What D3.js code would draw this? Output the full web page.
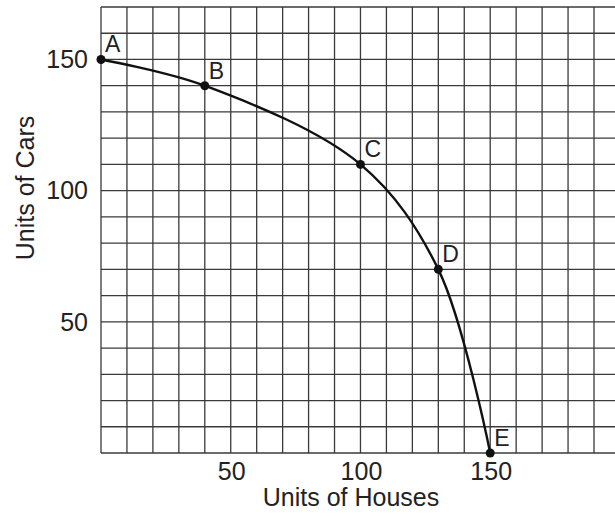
<html>
<script src="https://d3js.org/d3.v7.min.js" charset="utf-8"></script>
<style>
body { margin: 0; background: white; }
text { font-family: "Liberation Sans", Arial, sans-serif; fill: #222; }
</style>
<body></body>
<script>

// production possibilities points
var labels = ["A", "B", "C", "D", "E"];
var houses = [0, 40, 100, 130, 150];
var cars = [150, 140, 110, 70, 0];
var xTicks = [50, 100, 150];
var yTicks = [50, 100, 150];

drawChart();

function drawChart() {
	var screen_w = 615;
	var screen_h = 516;
	var left = 101, top = 7, bottom = 453;

	var svg = d3.select("body").append("svg")
		.attr("width", screen_w)
		.attr("height", screen_h);

	var x = d3.scaleLinear().domain([0, 190]).range([left, 594]);
	var y = d3.scaleLinear().domain([0, 170]).range([bottom, top]);

	// grid every 10 units
	var grid = svg.append("g").attr("stroke", "#3a3a3a").attr("stroke-width", 1.3);
	grid.selectAll(".v").data(d3.range(0, 191, 10)).enter().append("line")
		.attr("x1", function(d) { return x(d); })
		.attr("x2", function(d) { return x(d); })
		.attr("y1", y(170))
		.attr("y2", y(0));
	grid.selectAll(".h").data(d3.range(0, 171, 10)).enter().append("line")
		.attr("x1", x(0))
		.attr("x2", screen_w)
		.attr("y1", function(d) { return y(d); })
		.attr("y2", function(d) { return y(d); });

	// tick labels
	svg.selectAll(".xt").data(xTicks).enter().append("text")
		.attr("x", function(d) { return x(d) + 1; })
		.attr("y", bottom + 27)
		.attr("text-anchor", "middle")
		.style("font-size", "25px")
		.text(function(d) { return d; });
	svg.selectAll(".yt").data(yTicks).enter().append("text")
		.attr("x", left - 13)
		.attr("y", function(d) { return y(d); })
		.attr("dy", ".35em")
		.attr("text-anchor", "end")
		.style("font-size", "25px")
		.text(function(d) { return d; });

	// axis titles
	svg.append("text")
		.attr("x", 351)
		.attr("y", 506)
		.attr("text-anchor", "middle")
		.style("font-size", "25px")
		.text("Units of Houses");
	svg.append("text")
		.attr("transform", "translate(34,188) rotate(-90)")
		.attr("text-anchor", "middle")
		.style("font-size", "25px")
		.text("Units of Cars");

	var pts = houses.map(function(h, i) { return [h, cars[i], labels[i]]; });

	var line = d3.line()
		.x(function(d) { return x(d[0]); })
		.y(function(d) { return y(d[1]); })
		.curve(d3.curveCatmullRom.alpha(0.5));

	svg.append("path")
		.datum(pts)
		.attr("d", line)
		.attr("fill", "none")
		.attr("stroke", "#111")
		.attr("stroke-width", 2.4);

	svg.selectAll(".pt").data(pts).enter().append("circle")
		.attr("cx", function(d) { return x(d[0]); })
		.attr("cy", function(d) { return y(d[1]); })
		.attr("r", 4.5)
		.attr("fill", "#111");

	svg.selectAll(".lbl").data(pts).enter().append("text")
		.attr("x", function(d) { return x(d[0]) + 4; })
		.attr("y", function(d) { return y(d[1]) - 7; })
		.style("font-size", "23px")
		.text(function(d) { return d[2]; });
}

</script>
</html>
